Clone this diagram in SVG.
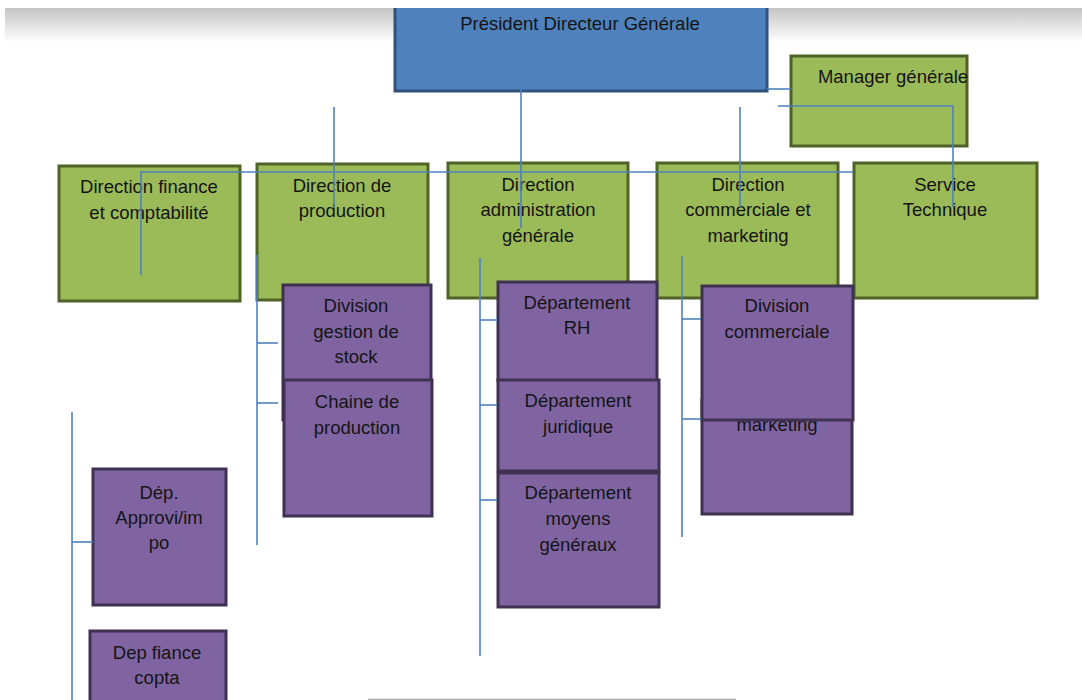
<svg xmlns="http://www.w3.org/2000/svg" width="1082" height="700" viewBox="0 0 1082 700">
<defs>
<linearGradient id="band" x1="0" y1="0" x2="0" y2="1">
<stop offset="0" stop-color="#c4c4c4"/>
<stop offset="1" stop-color="#ffffff"/>
</linearGradient>
</defs>
<style>
.t{font-family:"Liberation Sans",Arial,sans-serif;font-size:18.5px;fill:#141414;text-anchor:middle}
.blue{fill:#4f81bd;stroke:#2f527c;stroke-width:3}
.green{fill:#9bbb59;stroke:#4f6228;stroke-width:3}
.purple{fill:#8064a2;stroke:#3f3151;stroke-width:3}
.c{fill:none;stroke:#4f81bd;stroke-width:1.6}
</style>
<rect width="1082" height="700" fill="#ffffff"/>
<rect x="5" y="8" width="1077" height="34" fill="url(#band)"/>

<g id="pdg"><rect class="blue" x="395" y="2" width="372" height="89"/><text class="t" x="580" y="30">Président Directeur Générale</text></g>
<g id="manager"><rect class="green" x="791" y="56" width="176" height="90"/><text class="t" x="893" y="83">Manager générale</text></g>

<g id="dir-finance"><rect class="green" x="59" y="166" width="181" height="135"/><text class="t" x="149" y="193">Direction finance</text><text class="t" x="149" y="219">et comptabilité</text></g>
<g id="dir-production"><rect class="green" x="257" y="164" width="171" height="136"/><text class="t" x="342" y="192">Direction de</text><text class="t" x="342" y="217">production</text></g>
<g id="dir-admin"><rect class="green" x="448" y="163" width="180" height="135"/><text class="t" x="538" y="191">Direction</text><text class="t" x="538" y="216">administration</text><text class="t" x="538" y="242">générale</text></g>
<g id="dir-commerciale"><rect class="green" x="657" y="163" width="181" height="135"/><text class="t" x="748" y="191">Direction</text><text class="t" x="748" y="216">commerciale et</text><text class="t" x="748" y="242">marketing</text></g>
<g id="service-technique"><rect class="green" x="854" y="163" width="183" height="135"/><text class="t" x="945" y="191">Service</text><text class="t" x="945" y="216">Technique</text></g>

<g id="div-stock"><rect class="purple" x="283" y="285" width="148" height="135"/><text class="t" x="356" y="312">Division</text><text class="t" x="356" y="338">gestion de</text><text class="t" x="356" y="363">stock</text></g>
<g id="chaine-production"><rect class="purple" x="284" y="380" width="148" height="136"/><text class="t" x="357" y="408">Chaine de</text><text class="t" x="357" y="434">production</text></g>

<g id="dep-rh"><rect class="purple" x="498" y="282" width="159" height="99"/><text class="t" x="577" y="309">Département</text><text class="t" x="577" y="334">RH</text></g>
<g id="dep-juridique"><rect class="purple" x="498" y="380" width="161" height="91"/><text class="t" x="578" y="407">Département</text><text class="t" x="578" y="433">juridique</text></g>
<g id="dep-moyens"><rect class="purple" x="498" y="473" width="161" height="134"/><text class="t" x="578" y="499">Département</text><text class="t" x="578" y="525">moyens</text><text class="t" x="578" y="551">généraux</text></g>

<g id="marketing"><rect class="purple" x="702" y="400" width="150" height="114"/><text class="t" x="777" y="431">marketing</text></g>
<g id="div-commerciale"><rect class="purple" x="702" y="286" width="151" height="134"/><text class="t" x="777" y="312">Division</text><text class="t" x="777" y="338">commerciale</text></g>

<g id="dep-approvi"><rect class="purple" x="93" y="469" width="133" height="136"/><text class="t" x="159" y="499">Dép.</text><text class="t" x="159" y="524">Approvi/im</text><text class="t" x="159" y="549">po</text></g>
<g id="dep-finance"><rect class="purple" x="90" y="631" width="136" height="80"/><text class="t" x="157" y="659">Dep fiance</text><text class="t" x="157" y="684">copta</text></g>

<g id="connectors">
<line class="c" x1="521" y1="38" x2="521" y2="228"/>
<line class="c" x1="767" y1="89" x2="791" y2="89"/>
<polyline class="c" points="778,106 953,106 953,207"/>
<line class="c" x1="334" y1="107" x2="334" y2="208"/>
<line class="c" x1="740" y1="107" x2="740" y2="207"/>
<polyline class="c" points="853,172 141,172 141,275"/>
<line class="c" x1="257" y1="255" x2="257" y2="545"/>
<line class="c" x1="257" y1="343" x2="278" y2="343"/>
<line class="c" x1="257" y1="403" x2="278" y2="403"/>
<line class="c" x1="480" y1="258" x2="480" y2="656"/>
<line class="c" x1="480" y1="320" x2="497" y2="320"/>
<line class="c" x1="480" y1="405" x2="497" y2="405"/>
<line class="c" x1="480" y1="500" x2="497" y2="500"/>
<line class="c" x1="682" y1="256" x2="682" y2="537"/>
<line class="c" x1="682" y1="319" x2="701" y2="319"/>
<line class="c" x1="682" y1="419" x2="701" y2="419"/>
<line class="c" x1="72" y1="412" x2="72" y2="700"/>
<line class="c" x1="72" y1="542" x2="93" y2="542"/>
</g>
<rect x="0" y="0" width="1082" height="8" fill="#ffffff"/>
<line x1="368" y1="699.5" x2="736" y2="699.5" stroke="#a8a8a8" stroke-width="1.5"/>
</svg>
